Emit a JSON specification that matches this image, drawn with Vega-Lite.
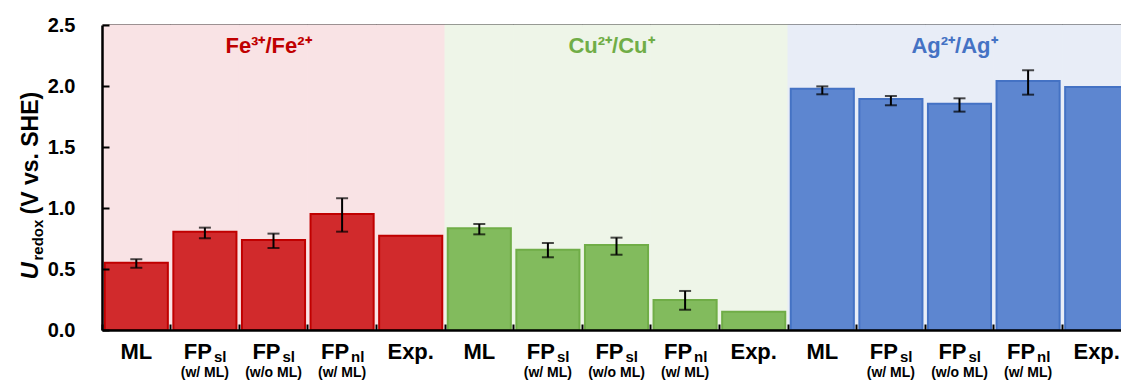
{
  "$schema": "https://vega.github.io/schema/vega-lite/v6.json",
  "width": 1019,
  "height": 305,
  "autosize": {"type": "none"},
  "padding": {"left": 102, "top": 25, "right": 0, "bottom": 50},
  "config": {"view": {"stroke": null}, "font": "Liberation Sans"},
  "datasets": {
    "bars": [
      {"id": "Fe-ML", "group": "Fe", "label": "ML", "sub": null, "note": null, "value": 0.552, "lo": 0.51, "hi": 0.58},
      {"id": "Fe-FPsl", "group": "Fe", "label": "FP", "sub": "sl", "note": "(w/ ML)", "value": 0.805, "lo": 0.752, "hi": 0.839},
      {"id": "Fe-FPsl-noML", "group": "Fe", "label": "FP", "sub": "sl", "note": "(w/o ML)", "value": 0.738, "lo": 0.672, "hi": 0.79},
      {"id": "Fe-FPnl", "group": "Fe", "label": "FP", "sub": "nl", "note": "(w/ ML)", "value": 0.951, "lo": 0.806, "hi": 1.08},
      {"id": "Fe-Exp", "group": "Fe", "label": "Exp.", "sub": null, "note": null, "value": 0.773, "lo": null, "hi": null},
      {"id": "Cu-ML", "group": "Cu", "label": "ML", "sub": null, "note": null, "value": 0.833, "lo": 0.784, "hi": 0.869},
      {"id": "Cu-FPsl", "group": "Cu", "label": "FP", "sub": "sl", "note": "(w/ ML)", "value": 0.658, "lo": 0.596, "hi": 0.713},
      {"id": "Cu-FPsl-noML", "group": "Cu", "label": "FP", "sub": "sl", "note": "(w/o ML)", "value": 0.697, "lo": 0.617, "hi": 0.757},
      {"id": "Cu-FPnl", "group": "Cu", "label": "FP", "sub": "nl", "note": "(w/ ML)", "value": 0.246, "lo": 0.166, "hi": 0.32},
      {"id": "Cu-Exp", "group": "Cu", "label": "Exp.", "sub": null, "note": null, "value": 0.15, "lo": null, "hi": null},
      {"id": "Ag-ML", "group": "Ag", "label": "ML", "sub": null, "note": null, "value": 1.978, "lo": 1.932, "hi": 1.997},
      {"id": "Ag-FPsl", "group": "Ag", "label": "FP", "sub": "sl", "note": "(w/ ML)", "value": 1.893, "lo": 1.842, "hi": 1.918},
      {"id": "Ag-FPsl-noML", "group": "Ag", "label": "FP", "sub": "sl", "note": "(w/o ML)", "value": 1.855, "lo": 1.79, "hi": 1.899},
      {"id": "Ag-FPnl", "group": "Ag", "label": "FP", "sub": "nl", "note": "(w/ ML)", "value": 2.041, "lo": 1.929, "hi": 2.129},
      {"id": "Ag-Exp", "group": "Ag", "label": "Exp.", "sub": null, "note": null, "value": 1.992, "lo": null, "hi": null}
    ],
    "groups": [
      {"id": "Fe-FPsl-noML", "group": "Fe", "title": "Fe³⁺/Fe²⁺"},
      {"id": "Cu-FPsl-noML", "group": "Cu", "title": "Cu²⁺/Cu⁺"},
      {"id": "Ag-FPsl-noML", "group": "Ag", "title": "Ag²⁺/Ag⁺"}
    ]
  },
  "layer": [
    {
      "data": {"name": "bars"},
      "mark": {"type": "bar", "width": {"band": 1}, "strokeWidth": 1},
      "encoding": {
        "x": {
          "field": "id", "type": "nominal", "sort": null,
          "scale": {"domain": ["Fe-ML","Fe-FPsl","Fe-FPsl-noML","Fe-FPnl","Fe-Exp","Cu-ML","Cu-FPsl","Cu-FPsl-noML","Cu-FPnl","Cu-Exp","Ag-ML","Ag-FPsl","Ag-FPsl-noML","Ag-FPnl","Ag-Exp"], "range": [0, 1029], "paddingInner": 0, "paddingOuter": 0},
          "axis": {"orient": "bottom", "title": null, "labels": false, "bandPosition": 0, "tickSize": -6, "tickWidth": 2, "tickColor": "black", "domainColor": "black", "domainWidth": 2.5, "zindex": 1, "grid": false}
        },
        "y": {
          "datum": 2.5, "type": "quantitative",
          "scale": {"domain": [0, 2.5], "nice": false},
          "axis": {"orient": "left", "values": [0, 0.5, 1, 1.5, 2, 2.5], "format": ".1f", "grid": false, "tickSize": -7, "tickWidth": 2, "tickColor": "black", "domainColor": "black", "domainWidth": 2.5, "labelFont": "Liberation Sans", "labelFontSize": 20, "labelFontWeight": "bold", "labelColor": "black", "labelPadding": 34, "zindex": 1,
            "title": "(V vs. SHE)", "titleFont": "Liberation Sans", "titleFontSize": 23, "titleFontWeight": "bold", "titleColor": "black", "titleAngle": 270, "titleAlign": "left", "titleBaseline": "alphabetic", "titleX": -65, "titleY": 189}
        },
        "y2": {"datum": 0},
        "fill": {"field": "group", "type": "nominal", "scale": {"domain": ["Fe", "Cu", "Ag"], "range": ["#f9e3e5", "#eef5e8", "#e8edf7"]}, "legend": null},
        "stroke": {"field": "group", "type": "nominal", "scale": {"domain": ["Fe", "Cu", "Ag"], "range": ["#f9e3e5", "#eef5e8", "#e8edf7"]}, "legend": null}
      }
    },
    {
      "data": {"name": "bars"},
      "mark": {"type": "bar", "width": {"band": 0.92}, "strokeWidth": 2},
      "encoding": {
        "x": {"field": "id", "type": "nominal", "sort": null, "axis": {"orient": "top", "title": null, "labels": false, "ticks": false, "domainColor": "black", "domainWidth": 2.5, "grid": false}},
        "y": {"field": "value", "type": "quantitative",
          "axis": {"orient": "left", "labels": false, "ticks": false, "domain": false, "grid": false, "title": "U", "titleFont": "Liberation Sans", "titleFontSize": 24, "titleFontWeight": "bold", "titleFontStyle": "italic", "titleColor": "black", "titleAngle": 270, "titleAlign": "left", "titleBaseline": "alphabetic", "titleX": -65, "titleY": 254}},
        "fill": {"field": "group", "type": "nominal", "scale": {"domain": ["Fe", "Cu", "Ag"], "range": ["#d12a2c", "#82bb5d", "#5d86d0"]}, "legend": null},
        "stroke": {"field": "group", "type": "nominal", "scale": {"domain": ["Fe", "Cu", "Ag"], "range": ["#c00000", "#70ad47", "#4472c4"]}, "legend": null}
      }
    },
    {
      "data": {"name": "bars"},
      "transform": [{"filter": "isValid(datum.lo)"}],
      "mark": {"type": "errorbar", "ticks": {"size": 12, "thickness": 2, "color": "black"}, "rule": {"strokeWidth": 2, "color": "black"}},
      "encoding": {
        "x": {"field": "id", "type": "nominal", "sort": null, "axis": null},
        "y": {"field": "lo", "type": "quantitative",
          "axis": {"orient": "left", "labels": false, "ticks": false, "domain": false, "grid": false, "title": "redox", "titleFont": "Liberation Sans", "titleFontSize": 15, "titleFontWeight": "bold", "titleColor": "black", "titleAngle": 270, "titleAlign": "left", "titleBaseline": "alphabetic", "titleX": -60, "titleY": 235}},
        "y2": {"field": "hi"}
      }
    },
    {
      "data": {"name": "bars"},
      "transform": [{"filter": "!isValid(datum.sub)"}],
      "mark": {"type": "text", "font": "Liberation Sans", "fontSize": 22, "fontWeight": "bold", "align": "center", "baseline": "alphabetic", "color": "black"},
      "encoding": {
        "x": {"field": "id", "type": "nominal", "sort": null, "axis": null},
        "y": {"datum": -0.238, "type": "quantitative", "axis": null},
        "text": {"field": "label"}
      }
    },
    {
      "data": {"name": "bars"},
      "transform": [{"filter": "isValid(datum.sub)"}],
      "mark": {"type": "text", "font": "Liberation Sans", "fontSize": 22, "fontWeight": "bold", "align": "right", "dx": 7, "baseline": "alphabetic", "color": "black"},
      "encoding": {
        "x": {"field": "id", "type": "nominal", "sort": null, "axis": null},
        "y": {"datum": -0.238, "type": "quantitative", "axis": null},
        "text": {"field": "label"}
      }
    },
    {
      "data": {"name": "bars"},
      "transform": [{"filter": "isValid(datum.sub)"}],
      "mark": {"type": "text", "font": "Liberation Sans", "fontSize": 15, "fontWeight": "bold", "align": "left", "dx": 9, "baseline": "alphabetic", "color": "black"},
      "encoding": {
        "x": {"field": "id", "type": "nominal", "sort": null, "axis": null},
        "y": {"datum": -0.265, "type": "quantitative", "axis": null},
        "text": {"field": "sub"}
      }
    },
    {
      "data": {"name": "bars"},
      "transform": [{"filter": "isValid(datum.note)"}],
      "mark": {"type": "text", "font": "Liberation Sans", "fontSize": 14, "fontWeight": "bold", "align": "center", "baseline": "alphabetic", "color": "black"},
      "encoding": {
        "x": {"field": "id", "type": "nominal", "sort": null, "axis": null},
        "y": {"datum": -0.385, "type": "quantitative", "axis": null},
        "text": {"field": "note"}
      }
    },
    {
      "data": {"name": "groups"},
      "mark": {"type": "text", "font": "Liberation Sans", "fontSize": 22, "fontWeight": "bold", "align": "center", "baseline": "alphabetic", "dx": -5},
      "encoding": {
        "x": {"field": "id", "type": "nominal", "sort": null, "axis": null},
        "y": {"datum": 2.27, "type": "quantitative", "axis": null},
        "text": {"field": "title"},
        "fill": {"field": "group", "type": "nominal", "scale": {"domain": ["Fe", "Cu", "Ag"], "range": ["#c00000", "#70ad47", "#4472c4"]}, "legend": null}
      }
    }
  ],
  "resolve": {
    "scale": {"fill": "independent", "stroke": "independent"},
    "axis": {"x": "independent", "y": "independent"}
  }
}
